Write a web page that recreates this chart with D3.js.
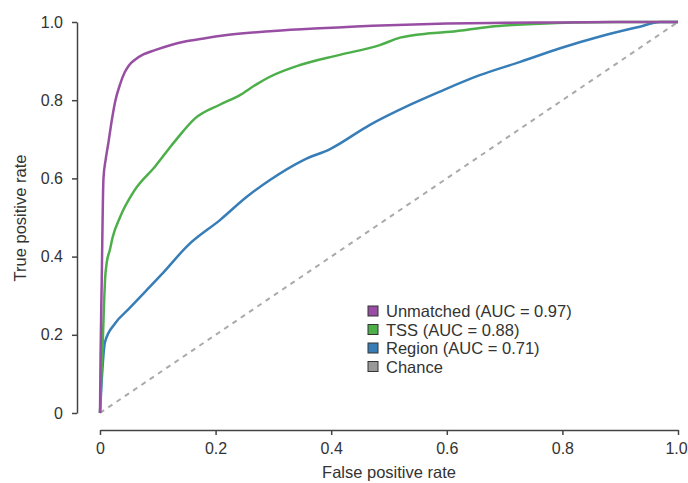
<!DOCTYPE html>
<html>
<head>
<meta charset="utf-8">
<script src="https://cdn.jsdelivr.net/npm/d3@7"></script>
<style>
  body { margin: 0; background: #fff; }
  svg { font-family: "Liberation Sans", Arial, sans-serif; }
</style>
</head>
<body>
<svg id="chart" width="688" height="483"></svg>
<script>
// ROC curves
var unmatchedFpr = [0, 0.001, 0.003, 0.006, 0.01, 0.0144, 0.02, 0.026, 0.035, 0.043, 0.05, 0.06, 0.075, 0.095, 0.12, 0.147, 0.18, 0.216, 0.3, 0.38, 0.5, 0.6, 0.7, 0.8, 0.9, 1.0];
var unmatchedTpr = [0, 0.15, 0.34, 0.6, 0.65, 0.69, 0.745, 0.795, 0.842, 0.872, 0.889, 0.903, 0.917, 0.928, 0.94, 0.95, 0.958, 0.966, 0.977, 0.984, 0.992, 0.996, 0.998, 0.999, 1, 1];

var tssFpr = [0, 0.002, 0.005, 0.0075, 0.0087, 0.0115, 0.017, 0.022, 0.035, 0.06, 0.095, 0.124, 0.135, 0.164, 0.208, 0.242, 0.27, 0.294, 0.346, 0.415, 0.484, 0.519, 0.571, 0.606, 0.675, 0.75, 0.82, 0.9, 1.0];
var tssTpr = [0, 0.08, 0.19, 0.3, 0.34, 0.383, 0.417, 0.45, 0.502, 0.57, 0.63, 0.685, 0.705, 0.753, 0.789, 0.813, 0.84, 0.86, 0.89, 0.916, 0.941, 0.96, 0.971, 0.975, 0.988, 0.995, 0.999, 1, 1];

var regionFpr = [0, 0.003, 0.0087, 0.026, 0.049, 0.078, 0.107, 0.153, 0.208, 0.254, 0.294, 0.352, 0.398, 0.467, 0.536, 0.588, 0.657, 0.727, 0.796, 0.865, 0.934, 0.969, 1.0];
var regionTpr = [0, 0.084, 0.182, 0.229, 0.265, 0.31, 0.355, 0.43, 0.494, 0.553, 0.596, 0.647, 0.675, 0.737, 0.788, 0.822, 0.864, 0.898, 0.933, 0.963, 0.988, 1, 1];

var chanceFpr = [0, 1];
var chanceTpr = [0, 1];

var seriesNames = ["Unmatched (AUC = 0.97)", "TSS (AUC = 0.88)", "Region (AUC = 0.71)", "Chance"];
var seriesColors = ["#984ea3", "#4daf4a", "#377eb8", "#999999"];
var tickValues = [0, 0.2, 0.4, 0.6, 0.8, 1.0];

var svg = d3.select("#chart");

var x = d3.scaleLinear().domain([0, 1]).range([100, 678]);
var y = d3.scaleLinear().domain([0, 1]).range([413, 22]);

function fmt(d) {
  return d === 0 ? "0" : d3.format(".1f")(d);
}

function toPoints(xs, ys) {
  return xs.map(function(v, i) { return [v, ys[i]]; });
}

var line = d3.line()
  .curve(d3.curveMonotoneX)
  .x(function(d) { return x(d[0]); })
  .y(function(d) { return y(d[1]); });

// axes, R style: detached from the plot area
var yAxis = svg.append("g")
  .attr("transform", "translate(77,0)")
  .call(d3.axisLeft(y).tickValues(tickValues).tickFormat(fmt).tickSize(5).tickSizeOuter(0).tickPadding(9));

var xAxis = svg.append("g")
  .attr("transform", "translate(0,430)")
  .call(d3.axisBottom(x).tickValues(tickValues).tickFormat(fmt).tickSize(5).tickSizeOuter(0).tickPadding(8));

[yAxis, xAxis].forEach(function(a) {
  a.selectAll("path, line").attr("stroke", "#444").attr("stroke-width", 1.5);
  a.selectAll("text").attr("fill", "#333").style("font-size", "16px");
});

// last x label sits on the right edge, nudge it in so it is not clipped
xAxis.selectAll(".tick text")
  .filter(function(d) { return d === 1; })
  .attr("dx", -2);

svg.append("text")
  .attr("x", 389).attr("y", 478)
  .attr("text-anchor", "middle")
  .attr("fill", "#333")
  .style("font-size", "16.5px")
  .text("False positive rate");

svg.append("text")
  .attr("transform", "translate(26,218) rotate(-90)")
  .attr("text-anchor", "middle")
  .attr("fill", "#333")
  .style("font-size", "16.5px")
  .text("True positive rate");

// chance line
svg.append("path")
  .datum(toPoints(chanceFpr, chanceTpr))
  .attr("d", line)
  .attr("fill", "none")
  .attr("stroke", "#aaaaaa")
  .attr("stroke-width", 2)
  .attr("stroke-dasharray", "5,5");

var curves = [
  toPoints(regionFpr, regionTpr),
  toPoints(tssFpr, tssTpr),
  toPoints(unmatchedFpr, unmatchedTpr)
];
var curveColors = [seriesColors[2], seriesColors[1], seriesColors[0]];

curves.forEach(function(pts, i) {
  svg.append("path")
    .datum(pts)
    .attr("d", line)
    .attr("fill", "none")
    .attr("stroke", curveColors[i])
    .attr("stroke-width", 2.5)
    .attr("stroke-linejoin", "round");
});

// legend
var legend = svg.append("g").attr("transform", "translate(368,311)");
seriesNames.forEach(function(name, i) {
  var row = legend.append("g").attr("transform", "translate(0," + (i * 18.5) + ")");
  row.append("rect")
    .attr("x", 0).attr("y", -5)
    .attr("width", 10).attr("height", 10)
    .attr("fill", seriesColors[i])
    .attr("stroke", "#333")
    .attr("stroke-width", 1);
  row.append("text")
    .attr("x", 18).attr("y", 6)
    .attr("fill", "#333")
    .style("font-size", "16.5px")
    .text(name);
});
</script>
</body>
</html>
